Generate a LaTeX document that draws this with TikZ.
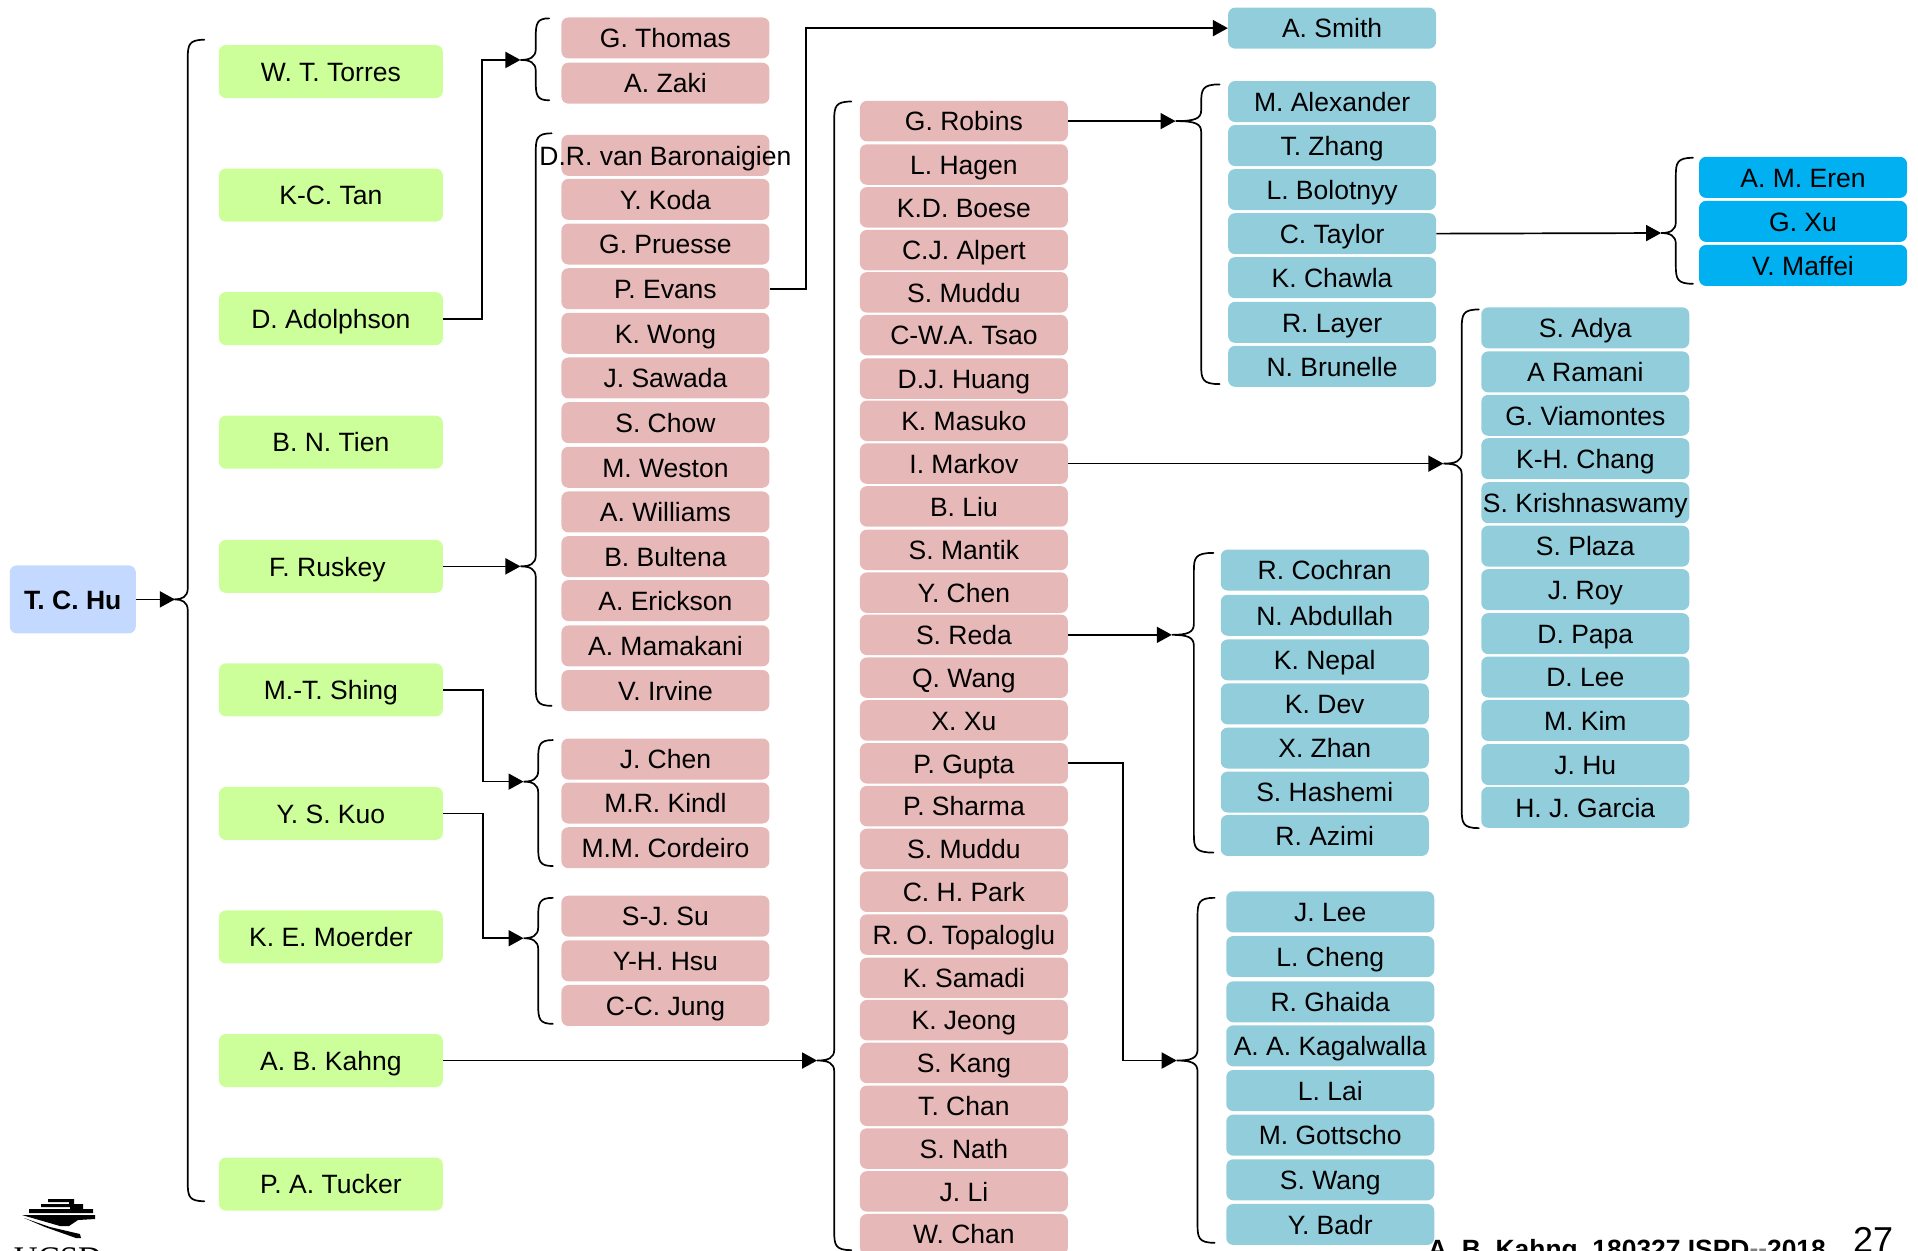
\documentclass[tikz,border=0pt]{standalone}
\usepackage{fontspec}
\setmainfont{Liberation Sans}
\newfontfamily\logofont{Liberation Serif}
\usetikzlibrary{arrows.meta}
\definecolor{cgreen}{HTML}{CCFF99}
\definecolor{cpink}{HTML}{E6B8B7}
\definecolor{cblue}{HTML}{92CDDC}
\definecolor{cbright}{HTML}{00B0F0}
\definecolor{croot}{HTML}{C4D9FF}
\tikzset{
  person/.style={rounded corners=7pt,inner sep=0pt,minimum width=208pt,minimum height=41pt,
    text height=22pt,text depth=2.5pt,font=\fontsize{26.5pt}{30pt}\selectfont,text=black},
  greenbox/.style={person,fill=cgreen,minimum width=224pt,minimum height=53pt},
  pinkbox/.style={person,fill=cpink},
  pinktwo/.style={person,fill=cpink,minimum height=40.5pt},
  bluebox/.style={person,fill=cblue},
  brightbox/.style={person,fill=cbright},
  rootbox/.style={person,fill=croot,minimum width=126pt,minimum height=68pt,font=\fontsize{26.5pt}{30pt}\selectfont\bfseries},
  link/.style={draw=black,line width=1.7pt,-{Triangle[length=15pt,width=16pt]}},
  bracket/.style={draw=black,line width=1.7pt,line cap=round},
}
% tip name, tip x, spine x, end x, top y, mid y, bottom y
\newcommand{\brk}[7]{%
  \coordinate (#1) at (#2,#6);
  \path[bracket] (#4,#5) .. controls ({#3+1},#5) and (#3,{#5+4}) .. (#3,{#5+15})
    -- (#3,{#6-9}) .. controls (#3,{#6-2}) and ({#3-5},#6) .. (#2,#6)
    .. controls ({#3-5},#6) and (#3,{#6+2}) .. (#3,{#6+9})
    -- (#3,{#7-15}) .. controls (#3,{#7-4}) and ({#3+1},#7) .. (#4,#7);
}
\begin{document}
\begin{tikzpicture}[x=1.2232pt,y=-1.2232pt]
\useasboundingbox (0,0) rectangle (1568,1022.7);

\brk{tA}{143}{153.5}{167}{32.5}{490}{982}
\brk{tB}{425.5}{438}{449}{15}{49}{82}
\brk{tC}{425.5}{438}{451}{109}{463}{577}
\brk{tD}{428}{440}{452}{605}{639}{708}
\brk{tE}{428}{440}{452}{734}{767}{837}
\brk{tF}{668}{682}{696}{83}{867}{1022}
\brk{tG}{961}{982}{997}{69}{99}{314}
\brk{tH}{958}{976}{992}{452}{519}{697}
\brk{tI}{962}{979}{993}{734}{867}{1016}
\brk{tJ}{1180}{1195}{1209}{253}{379}{677}
\brk{tK}{1358}{1370}{1384}{129}{190.5}{232}

\node[rootbox] (hu) at (59.5,490) {T. C. Hu};

\foreach \nm/\yy/\tx in {torres/58.5/W. T. Torres, tan/159.5/K-C. Tan, adolphson/260.5/D. Adolphson,
  tien/361.5/B. N. Tien, ruskey/463/F. Ruskey\kern7pt, shing/564/M.-T. Shing, kuo/665/Y. S. Kuo,
  moerder/766/K. E. Moerder, kahng/867/A. B. Kahng, tucker/968/P. A. Tucker}
  \node[greenbox] (\nm) at (270.5,\yy) {\tx};

\foreach \nm/\yy/\tx in {thomas/31/G. Thomas, zaki/68/A. Zaki, baron/127/\makebox[100pt]{D.R. van Baronaigien}, koda/163/Y. Koda,
  pruesse/199.5/G. Pruesse, evans/236/P. Evans, wong/272.5/K. Wong, sawada/309/J. Sawada, chow/345.5/S. Chow,
  weston/382/M. Weston, williams/418.5/A. Williams, bultena/455/B. Bultena, erickson/491/A. Erickson,
  mamakani/528/A. Mamakani, irvine/564.5/V. Irvine, jchen/620.5/J. Chen, kindl/656.5/M.R. Kindl,
  cordeiro/693/M.M. Cordeiro, su/749/S-J. Su, hsu/785.5/Y-H. Hsu, jung/822/C-C. Jung}
  \node[pinkbox] (\nm) at (544,\yy) {\tx};

\foreach \nm/\yy/\tx in {robins/99/G. Robins, hagen/134.5/L. Hagen, boese/169.5/K.D. Boese, alpert/204.5/C.J. Alpert,
  muddua/239/S. Muddu, tsao/274/C-W.A. Tsao, huang/309.5/D.J. Huang, masuko/344/K. Masuko, markov/379/I. Markov,
  liu/414/B. Liu, mantik/449.5/S. Mantik, ychen/484.5/Y. Chen, reda/519/S. Reda, qwang/554/Q. Wang, xu/589/X. Xu,
  gupta/624/P. Gupta, sharma/659/P. Sharma, muddub/694/S. Muddu, park/729/C. H. Park, topaloglu/764/R. O. Topaloglu,
  samadi/799.5/K. Samadi, jeong/834/K. Jeong, kang/869/S. Kang, tchan/904/T. Chan, nath/939/S. Nath, li/974/J. Li,
  wchan/1009/W. Chan}
  \node[pinktwo] (\nm) at (788,\yy) {\tx};

\foreach \nm/\yy/\tx in {smith/23/A. Smith, alexander/83/M. Alexander, zhang/119/T. Zhang, bolotnyy/155/L. Bolotnyy,
  taylor/191/C. Taylor, chawla/227/K. Chawla, layer/263.5/R. Layer, brunelle/299.5/N. Brunelle}
  \node[bluebox] (\nm) at (1089,\yy) {\tx};

\foreach \nm/\yy/\tx in {eren/145/A. M. Eren, gxu/181/G. Xu, maffei/217/V. Maffei}
  \node[brightbox] (\nm) at (1474,\yy) {\tx};

\foreach \nm/\yy/\tx in {adya/268/S. Adya, ramani/304/A Ramani, viamontes/339.5/G. Viamontes, chang/375/K-H. Chang,
  krishnaswamy/411/S. Krishnaswamy, plaza/446.5/S. Plaza, roy/482/J. Roy, papa/518/D. Papa, dlee/553.5/D. Lee,
  kim/589/M. Kim, jhu/625/J. Hu, garcia/660/H. J. Garcia}
  \node[bluebox] (\nm) at (1296,\yy) {\tx};

\foreach \nm/\yy/\tx in {cochran/466/R. Cochran, abdullah/503/N. Abdullah, nepal/539.5/K. Nepal, dev/575.5/K. Dev,
  zhan/611.5/X. Zhan, hashemi/647.5/S. Hashemi, azimi/683/R. Azimi}
  \node[bluebox] (\nm) at (1083,\yy) {\tx};

\foreach \nm/\yy/\tx in {jlee/745.5/J. Lee, cheng/782/L. Cheng, ghaida/819/R. Ghaida, kagalwalla/855/A. A. Kagalwalla,
  lai/891.5/L. Lai, gottscho/928/M. Gottscho, swang/964.5/S. Wang, badr/1001/Y. Badr}
  \node[bluebox] (\nm) at (1087.5,\yy) {\tx};

% connectors
\coordinate (rA) at (394,49);
\coordinate (rB) at (395,639);
\coordinate (rC) at (395,767);
\coordinate (rD) at (659,23);
\coordinate (rE) at (918,867);
\path[link] (hu.east) -- (tA);
\path[link] (adolphson.east) -| (rA) -- (tB);
\path[link] (ruskey.east) -- (tC);
\path[link] (shing.east) -| (rB) -- (tD);
\path[link] (kuo.east) -| (rC) -- (tE);
\path[link] (kahng.east) -- (tF);
\path[link] (evans.east) -| (rD) -- (smith.west);
\path[link] (robins.east) -- (tG);
\path[link] (taylor.east) -- (tK);
\path[link] (markov.east) -- (tJ);
\path[link] (reda.east) -- (tH);
\path[link] (gupta.east) -| (rE) -- (tI);

% footer and logo, in image pixels
\begin{scope}[x=1pt,y=-1pt]
\node[anchor=base west,inner sep=0pt,font=\fontsize{26.4pt}{30pt}\selectfont\bfseries] (foot) at (1428,1258.5)
  {A. B. Kahng, 180327 ISPD\textcolor{gray}{\raisebox{1.5pt}{{-}{-}}}2018};
\node[anchor=base,inner sep=0pt,font=\fontsize{36pt}{40pt}\selectfont] (page) at (1873,1252) {27};
\fill[black] (48,1199) rectangle (74,1202)
  (41,1204) rectangle (83,1207)
  (29,1209) rectangle (93,1213)
  (69,1202) rectangle (74,1204.5)
  (70,1207) rectangle (83,1209);
\fill[black] (22,1215) -- (95,1215) -- (95,1219) -- (78,1220) -- (69,1226) -- (60,1226) -- cycle;
\fill[black] (24,1218) -- (50,1227) -- (80,1234) -- (81,1238) -- (76,1238) -- (45,1227) -- cycle;
\node[anchor=base,inner sep=0pt,font=\fontsize{33pt}{36pt}\logofont\selectfont] (ucsd) at (58,1269) {UCSD};
\end{scope}
\end{tikzpicture}
\end{document}
